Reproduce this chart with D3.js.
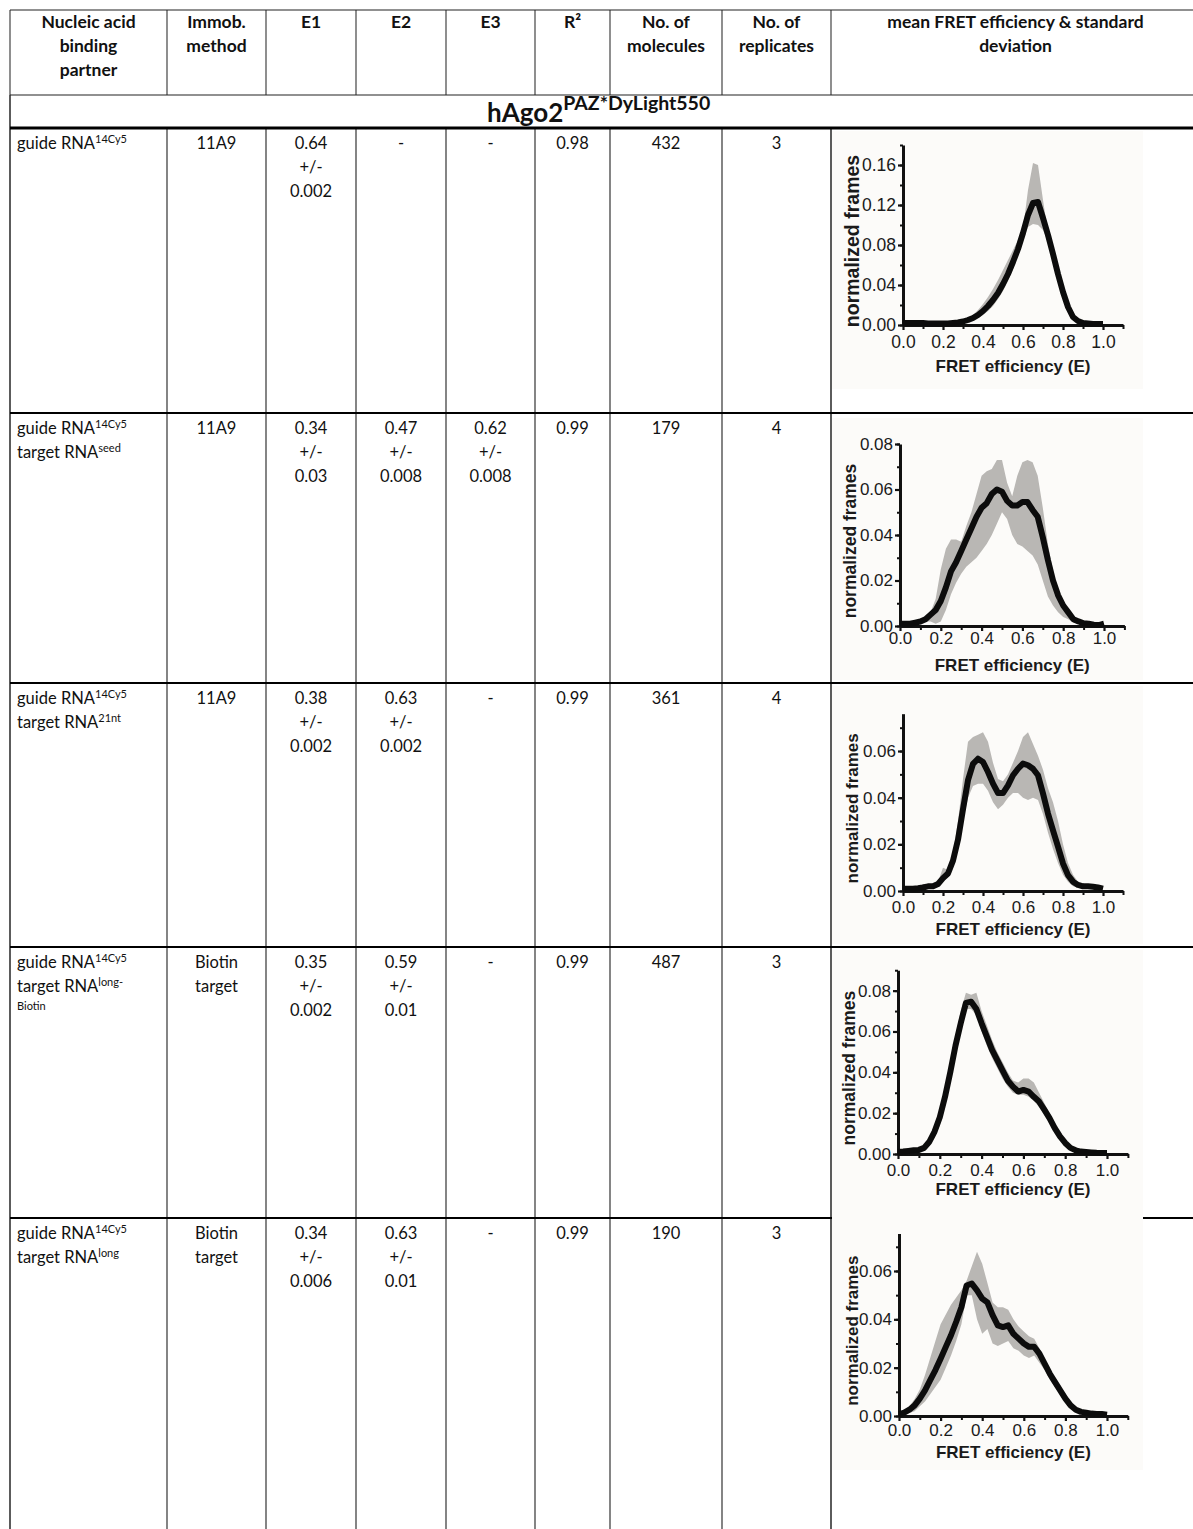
<!DOCTYPE html>
<html>
<head>
<meta charset="utf-8">
<script src="https://cdn.jsdelivr.net/npm/d3@7"></script>
<style>
  body { margin: 0; background: #fff; }
  .hd { font-family: Lato, "Open Sans", sans-serif; font-weight: bold; font-size: 17.5px; fill: #111; }
  .bd { font-family: Lato, "Open Sans", sans-serif; font-size: 16.5px; fill: #111; }
  .sup { font-size: 11px; }
  .ax text { font-family: "Liberation Sans", Arial, sans-serif; fill: #1a1a1a; }
  .ttl { font-family: "Liberation Sans", Arial, sans-serif; font-weight: bold; fill: #1a1a1a; }
</style>
</head>
<body>
<div id="fret-table"></div>
<script>
//-----------------------------DATA------------------------------//
const headerLines = [
  ["Nucleic acid", "binding", "partner"], ["Immob.", "method"], ["E1"], ["E2"], ["E3"], ["R²"],
  ["No. of", "molecules"], ["No. of", "replicates"], ["mean FRET efficiency & standard", "deviation"]
];
const groupTitle = ["hAgo2", "PAZ*DyLight550"];

const partners = [
  [["guide RNA", "14Cy5"]],
  [["guide RNA", "14Cy5"], ["target RNA", "seed"]],
  [["guide RNA", "14Cy5"], ["target RNA", "21nt"]],
  [["guide RNA", "14Cy5"], ["target RNA", "long-"], ["", "Biotin"]],
  [["guide RNA", "14Cy5"], ["target RNA", "long"]]
];
const immob = [["11A9"], ["11A9"], ["11A9"], ["Biotin", "target"], ["Biotin", "target"]];
const e1 = [["0.64", "+/-", "0.002"], ["0.34", "+/-", "0.03"], ["0.38", "+/-", "0.002"], ["0.35", "+/-", "0.002"], ["0.34", "+/-", "0.006"]];
const e2 = [["-"], ["0.47", "+/-", "0.008"], ["0.63", "+/-", "0.002"], ["0.59", "+/-", "0.01"], ["0.63", "+/-", "0.01"]];
const e3 = [["-"], ["0.62", "+/-", "0.008"], ["-"], ["-"], ["-"]];
const r2 = ["0.98", "0.99", "0.99", "0.99", "0.99"];
const molecules = ["432", "179", "361", "487", "190"];
const replicates = ["3", "4", "4", "3", "3"];

// FRET efficiency bins
const fretE = [0, 0.025, 0.05, 0.075, 0.1, 0.125, 0.15, 0.175, 0.2, 0.225, 0.25, 0.275, 0.3, 0.325, 0.35, 0.375,
  0.4, 0.425, 0.45, 0.475, 0.5, 0.525, 0.55, 0.575, 0.6, 0.625, 0.65, 0.675, 0.7, 0.725, 0.75, 0.775,
  0.8, 0.825, 0.85, 0.875, 0.9, 0.925, 0.95, 0.975, 1];

// guide RNA only
const mean1 = [.002, .002, .002, .002, .002, .0015, .0015, .0015, .0015, .0015, .002, .0025, .0035, .005, .007, .01,
  .014, .019, .025, .032, .041, .051, .063, .076, .092, .11, .122, .123, .107, .09, .071, .051,
  .033, .018, .008, .004, .002, .0015, .001, .001, .001];
const upper1 = [.0025, .0025, .0025, .0025, .0025, .002, .002, .002, .002, .002, .0025, .003, .004, .006, .01, .015,
  .021, .028, .036, .045, .055, .065, .075, .085, .096, .135, .162, .16, .125, .092, .072, .052,
  .034, .019, .009, .0045, .0025, .002, .0015, .0015, .0015];
const lower1 = [.0015, .0015, .0015, .0015, .0015, .001, .001, .001, .001, .001, .0015, .002, .003, .004, .005, .007,
  .01, .014, .019, .026, .034, .044, .056, .07, .085, .098, .101, .1, .095, .083, .066, .047,
  .03, .016, .007, .003, .0015, .001, .0005, .0005, .0005];

// + target RNA seed
const mean2 = [.001, .001, .001, .0015, .002, .003, .005, .007, .011, .017, .024, .028, .033, .038, .043, .048,
  .052, .054, .058, .06, .059, .055, .053, .053, .0545, .0545, .051, .048, .039, .029, .02, .0135,
  .009, .006, .003, .002, .0012, .001, .0006, .0004, .001];
const upper2 = [.0015, .0015, .0015, .002, .0025, .0035, .006, .012, .025, .034, .038, .038, .037, .044, .05, .058,
  .066, .068, .069, .073, .073, .063, .057, .066, .072, .073, .072, .066, .052, .036, .024, .015,
  .01, .007, .004, .0025, .0015, .0012, .001, .0008, .0012];
const lower2 = [.0005, .0005, .0005, .001, .0015, .002, .002, .001, .002, .007, .014, .019, .023, .026, .028, .03,
  .033, .036, .04, .045, .05, .047, .04, .036, .035, .033, .031, .027, .02, .013, .009, .006,
  .004, .003, .0015, .001, .0008, .0006, .0003, .0002, .0006];

// + target RNA 21nt
const mean3 = [.001, .001, .001, .0012, .0015, .002, .002, .003, .0055, .0075, .013, .022, .035, .0475, .0545, .0567,
  .0553, .051, .046, .042, .042, .0453, .0496, .0524, .0546, .0539, .0524, .0496, .0418, .0332, .026, .019,
  .0118, .0068, .004, .0026, .002, .002, .0018, .0015, .001];
const upper3 = [.0015, .0015, .0015, .0017, .003, .003, .003, .004, .01, .009, .016, .03, .048, .064, .066, .067,
  .068, .064, .055, .048, .047, .05, .055, .06, .066, .068, .063, .058, .052, .044, .038, .03,
  .02, .012, .007, .004, .003, .003, .0025, .002, .0015];
const lower3 = [.0005, .0005, .0005, .0007, .001, .0015, .0015, .0025, .004, .006, .01, .018, .03, .04, .045, .046,
  .046, .043, .038, .035, .037, .04, .042, .042, .04, .039, .04, .039, .033, .025, .018, .012,
  .007, .004, .002, .0015, .0012, .0012, .001, .001, .0008];

// + target RNA long-Biotin
const mean4 = [.001, .0012, .0015, .0018, .002, .003, .006, .011, .018, .028, .04, .053, .064, .074, .0746, .071,
  .064, .0575, .051, .046, .041, .036, .033, .0306, .0314, .0306, .028, .0257, .0217, .0176, .0127, .0086,
  .0054, .003, .0018, .0012, .001, .0008, .0006, .0005, .0005];
const upper4 = [.0015, .0017, .002, .0023, .003, .004, .008, .014, .022, .032, .045, .058, .07, .079, .078, .079,
  .07, .063, .056, .05, .045, .04, .036, .035, .037, .037, .035, .03, .025, .02, .015, .01,
  .0065, .004, .0025, .0018, .0015, .0013, .0011, .001, .001];
const lower4 = [.0005, .0007, .001, .0012, .001, .002, .004, .008, .014, .024, .036, .05, .062, .071, .071, .068,
  .06, .053, .047, .042, .037, .033, .03, .029, .029, .028, .026, .023, .019, .015, .011, .007,
  .004, .002, .001, .0007, .0005, .0004, .0003, .0002, .0002];

// + target RNA long
const mean5 = [.0007, .0014, .0026, .0044, .0072, .0106, .0148, .019, .0237, .0286, .0334, .039, .045, .054, .0548, .052,
  .0486, .047, .0417, .0375, .0368, .0375, .034, .032, .03, .0286, .0286, .0258, .0217, .0175, .014, .0106,
  .0072, .0044, .0026, .0017, .0014, .001, .0008, .0008, .0005];
const upper5 = [.001, .002, .004, .007, .011, .017, .024, .031, .038, .042, .046, .049, .052, .056, .062, .068,
  .063, .055, .047, .045, .045, .044, .04, .037, .035, .033, .032, .028, .023, .019, .0155, .012,
  .008, .005, .003, .002, .0017, .0013, .001, .001, .0007];
const lower5 = [.0004, .0008, .0012, .002, .004, .006, .009, .012, .015, .02, .025, .031, .038, .05, .05, .04,
  .034, .036, .03, .029, .03, .031, .028, .027, .025, .024, .025, .022, .019, .015, .012, .009,
  .006, .0035, .002, .0012, .001, .0008, .0006, .0006, .0003];

const meanSeries = [mean1, mean2, mean3, mean4, mean5];
const upperSeries = [upper1, upper2, upper3, upper4, upper5];
const lowerSeries = [lower1, lower2, lower3, lower4, lower5];

const xTickLabels = [0, 0.2, 0.4, 0.6, 0.8, 1.0];
const yTickSets = [[0, 0.04, 0.08, 0.12, 0.16], [0, 0.02, 0.04, 0.06, 0.08], [0, 0.02, 0.04, 0.06],
  [0, 0.02, 0.04, 0.06, 0.08], [0, 0.02, 0.04, 0.06]];

//---------------------------LAYOUT------------------------------//
const width = 1193;
const height = 1529;
const colX = [10, 167, 266, 356, 446, 535, 610, 722, 831];
const headTop = 10, headBottom = 95;
const rowTops = [128, 413, 683, 947, 1218];
const lineGap = 24;

// placement of the five embedded plots
const plots = [
  { ox: 903, oy: 325, xw: 200, ymax: 0.18, ypu: 1000, minor: 0.02, bg: [832, 131, 311, 258], fs: 17.5, pad: 6, tdy: 47, lx: 852, lfs: 19.5 },
  { ox: 900, oy: 626, xw: 204, ymax: 0.08, ypu: 2275, minor: 0.01, bg: [832, 418, 311, 262], fs: 17, pad: 1, tdy: 45, lx: 850, lfs: 17.5 },
  { ox: 903, oy: 891, xw: 200, ymax: 0.076, ypu: 2333, minor: 0.01, bg: [832, 686, 311, 258], fs: 17, pad: 5, tdy: 44, lx: 852, lfs: 17 },
  { ox: 898, oy: 1154, xw: 209, ymax: 0.09, ypu: 2042, minor: 0.01, bg: [832, 950, 311, 270], fs: 17, pad: 5, tdy: 41, lx: 849, lfs: 17.5 },
  { ox: 899, oy: 1416, xw: 208, ymax: 0.0755, ypu: 2417, minor: 0.01, bg: [832, 1220, 311, 250], fs: 17, pad: 3, tdy: 42, lx: 852, lfs: 17 }
];

const svg = d3.select("div#fret-table").append("svg")
  .attr("width", width)
  .attr("height", height)
  .style("display", "block")
  .style("background", "#fff");

//---------------------------GRID LINES--------------------------//
const grid = svg.append("g");
// header verticals
colX.forEach(function (x) {
  grid.append("line").attr("x1", x).attr("x2", x).attr("y1", headTop).attr("y2", headBottom)
    .attr("stroke", "#444").attr("stroke-width", 1.2);
});
// body verticals
colX.forEach(function (x) {
  grid.append("line").attr("x1", x).attr("x2", x).attr("y1", rowTops[0]).attr("y2", height)
    .attr("stroke", "#333").attr("stroke-width", x === 831 || x === 10 ? 1.6 : 1.2);
});
grid.append("line").attr("x1", 10).attr("x2", 10).attr("y1", headBottom).attr("y2", rowTops[0])
  .attr("stroke", "#333").attr("stroke-width", 1.6);

[headTop, headBottom].forEach(function (y) {
  grid.append("line").attr("x1", 10).attr("x2", width).attr("y1", y).attr("y2", y)
    .attr("stroke", "#222").attr("stroke-width", 1.2);
});
rowTops.forEach(function (y, i) {
  grid.append("line").attr("x1", 10).attr("x2", width).attr("y1", y).attr("y2", y)
    .attr("stroke", "#000").attr("stroke-width", i === 0 ? 3 : 2.2);
});

//-----------------------------TEXT------------------------------//
function writeLines(x, yFirst, lines, anchor, cls) {
  lines.forEach(function (line, k) {
    const segs = Array.isArray(line) ? line : [line];
    const t = svg.append("text")
      .attr("x", x)
      .attr("y", yFirst + k * lineGap)
      .attr("text-anchor", anchor)
      .attr("class", cls);
    t.append("tspan").text(segs[0]);
    if (segs[1]) {
      t.append("tspan").attr("class", "sup").attr("dy", -6).text(segs[1]);
    }
  });
}

function colMid(i) {
  return (colX[i] + colX[i + 1]) / 2;
}

headerLines.forEach(function (lines, i) {
  const cx = i < 8 ? colMid(i) : (colX[8] + 1200) / 2;
  writeLines(cx, headTop + 18, lines, "middle", "hd");
});

// group title
const gt = svg.append("text")
  .attr("x", 487)
  .attr("y", 122)
  .attr("class", "hd")
  .style("font-size", "26px");
gt.append("tspan").text(groupTitle[0]);
gt.append("tspan").attr("dy", -12).style("font-size", "19.5px").text(groupTitle[1]);

rowTops.forEach(function (top, r) {
  const y = top + 21;
  writeLines(colX[0] + 7, y, partners[r], "start", "bd");
  writeLines(colMid(1), y, immob[r], "middle", "bd");
  writeLines(colMid(2), y, e1[r], "middle", "bd");
  writeLines(colMid(3), y, e2[r], "middle", "bd");
  writeLines(colMid(4), y, e3[r], "middle", "bd");
  writeLines(colMid(5), y, [r2[r]], "middle", "bd");
  writeLines(colMid(6), y, [molecules[r]], "middle", "bd");
  writeLines(colMid(7), y, [replicates[r]], "middle", "bd");
});

//----------------------------PLOTS------------------------------//
plots.forEach(function (p, i) {
  const g = svg.append("g");
  g.append("rect")
    .attr("x", p.bg[0]).attr("y", p.bg[1])
    .attr("width", p.bg[2]).attr("height", p.bg[3])
    .attr("fill", "#fcfbf9");

  const xScale = d3.scaleLinear().domain([0, 1.1]).range([p.ox, p.ox + p.xw * 1.1]);
  const yScale = d3.scaleLinear().domain([0, p.ymax]).range([p.oy, p.oy - p.ymax * p.ypu]);

  const pts = fretE.map(function (e, k) {
    return { e: e, m: meanSeries[i][k], hi: upperSeries[i][k], lo: lowerSeries[i][k] };
  });

  const band = d3.area()
    .x(function (d) { return xScale(d.e); })
    .y0(function (d) { return yScale(d.lo); })
    .y1(function (d) { return yScale(d.hi); });

  const line = d3.line()
    .x(function (d) { return xScale(d.e); })
    .y(function (d) { return yScale(d.m); });

  g.append("path").attr("d", band(pts)).attr("fill", "#b9b7b4");

  // minor ticks
  const yMinor = d3.range(0, p.ymax + 1e-9, p.minor);
  g.append("g")
    .attr("transform", "translate(" + p.ox + ",0)")
    .call(d3.axisLeft(yScale).tickValues(yMinor).tickSize(3).tickFormat(""))
    .call(function (a) { a.select(".domain").remove(); a.selectAll("line").attr("stroke", "#111").attr("stroke-width", 2); });
  g.append("g")
    .attr("transform", "translate(0," + p.oy + ")")
    .call(d3.axisBottom(xScale).tickValues([0.1, 0.3, 0.5, 0.7, 0.9, 1.1]).tickSize(4).tickFormat(""))
    .call(function (a) { a.select(".domain").remove(); a.selectAll("line").attr("stroke", "#111").attr("stroke-width", 2); });

  const yAxis = g.append("g")
    .attr("class", "ax")
    .attr("transform", "translate(" + p.ox + ",0)")
    .call(d3.axisLeft(yScale).tickValues(yTickSets[i]).tickSize(5).tickSizeOuter(0).tickPadding(2)
      .tickFormat(d3.format(".2f")));
  yAxis.select(".domain").attr("stroke", "#111").attr("stroke-width", 3);
  yAxis.selectAll("line").attr("stroke", "#111").attr("stroke-width", 2.2);
  yAxis.selectAll("text").style("font-size", p.fs + "px");

  const xAxis = g.append("g")
    .attr("class", "ax")
    .attr("transform", "translate(0," + p.oy + ")")
    .call(d3.axisBottom(xScale).tickValues(xTickLabels).tickSize(5).tickSizeOuter(0).tickPadding(p.pad)
      .tickFormat(d3.format(".1f")));
  xAxis.select(".domain").attr("stroke", "#111").attr("stroke-width", 3);
  xAxis.selectAll("line").attr("stroke", "#111").attr("stroke-width", 2.2);
  xAxis.selectAll("text").style("font-size", p.fs + "px");

  g.append("path")
    .attr("d", line(pts))
    .attr("fill", "none")
    .attr("stroke", "#0c0c0c")
    .attr("stroke-width", 6)
    .attr("stroke-linejoin", "round");

  g.append("text")
    .attr("class", "ttl")
    .attr("x", xScale(0.55))
    .attr("y", p.oy + p.tdy)
    .attr("text-anchor", "middle")
    .style("font-size", "17px")
    .text("FRET efficiency (E)");

  g.append("text")
    .attr("class", "ttl")
    .attr("transform", "translate(" + p.lx + "," + (p.oy - p.ymax * p.ypu / 2 + 6) + ") rotate(-90)")
    .attr("text-anchor", "middle")
    .attr("dy", "0.35em")
    .style("font-size", p.lfs + "px")
    .text("normalized frames");
});
</script>
</body>
</html>
